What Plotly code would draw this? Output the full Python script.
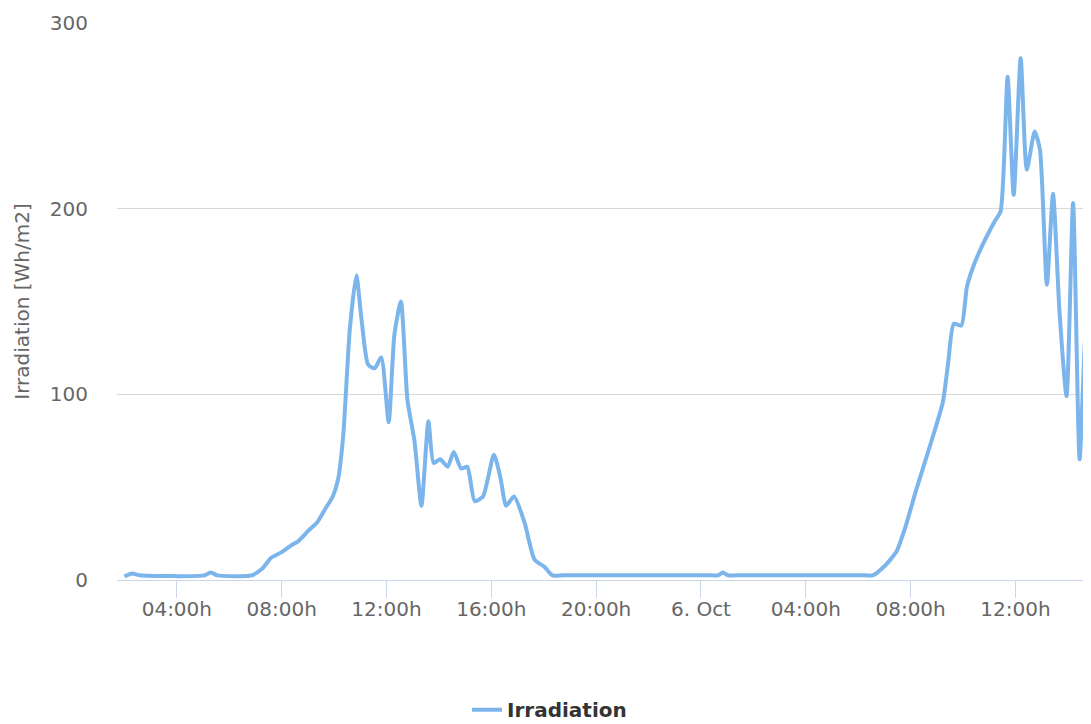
import plotly.graph_objects as go

# irradiation readings (Wh/m2), times
times = [
    "2020-10-05 02:00", "2020-10-05 02:18", "2020-10-05 02:36", "2020-10-05 05:03",
    "2020-10-05 05:18", "2020-10-05 05:33", "2020-10-05 06:51", "2020-10-05 07:15",
    "2020-10-05 07:36", "2020-10-05 08:00", "2020-10-05 08:24", "2020-10-05 08:36",
    "2020-10-05 09:03", "2020-10-05 09:21", "2020-10-05 09:39", "2020-10-05 09:57",
    "2020-10-05 10:09", "2020-10-05 10:21", "2020-10-05 10:36", "2020-10-05 10:51",
    "2020-10-05 11:03", "2020-10-05 11:18", "2020-10-05 11:33", "2020-10-05 11:48",
    "2020-10-05 12:05", "2020-10-05 12:18", "2020-10-05 12:33", "2020-10-05 12:48",
    "2020-10-05 13:04", "2020-10-05 13:20", "2020-10-05 13:36", "2020-10-05 13:48",
    "2020-10-05 14:03", "2020-10-05 14:20", "2020-10-05 14:34", "2020-10-05 14:51",
    "2020-10-05 15:05", "2020-10-05 15:22", "2020-10-05 15:41", "2020-10-05 16:06",
    "2020-10-05 16:21", "2020-10-05 16:34", "2020-10-05 16:52", "2020-10-05 17:16",
    "2020-10-05 17:39", "2020-10-05 18:02", "2020-10-05 18:20", "2020-10-05 18:45",
    "2020-10-05 21:00", "2020-10-05 23:00",
    "2020-10-06 00:25", "2020-10-06 00:39", "2020-10-06 00:50", "2020-10-06 01:02",
    "2020-10-06 01:20", "2020-10-06 03:00", "2020-10-06 05:00", "2020-10-06 06:15",
    "2020-10-06 06:33", "2020-10-06 07:00", "2020-10-06 07:28", "2020-10-06 07:47",
    "2020-10-06 08:13", "2020-10-06 08:44", "2020-10-06 09:14", "2020-10-06 09:26",
    "2020-10-06 09:39", "2020-10-06 09:56", "2020-10-06 10:09", "2020-10-06 10:27",
    "2020-10-06 10:50", "2020-10-06 11:12", "2020-10-06 11:26", "2020-10-06 11:42",
    "2020-10-06 11:56", "2020-10-06 12:12", "2020-10-06 12:26", "2020-10-06 12:44",
    "2020-10-06 12:56", "2020-10-06 13:12", "2020-10-06 13:26", "2020-10-06 13:41",
    "2020-10-06 13:57", "2020-10-06 14:12", "2020-10-06 14:27", "2020-10-06 14:42",
    "2020-10-06 14:57",
]
irradiation = [
    2, 3.5, 2.5, 2.5,
    4, 2.5, 2.5, 6,
    12, 15, 19, 20.5,
    27, 31, 38, 45,
    54, 78, 135, 164,
    140, 116, 114, 120,
    85, 132, 150, 97,
    75, 40, 85.5, 63,
    65, 61, 69, 60,
    61, 42.5, 45, 67.5,
    55, 40, 45, 31,
    11, 7, 2.5, 2.5,
    2.5, 2.5,
    2.5, 2.5, 4, 2.5,
    2.5, 2.5, 2.5, 2.5,
    2.5, 7.4, 15.5, 27.7,
    48.7, 72, 96, 117,
    138, 137, 158, 171,
    183, 193, 198.5, 271,
    207.5, 281, 221, 241.5,
    232, 159, 208, 144,
    99, 203, 65, 137,
    100,
]

tick_vals = ["2020-10-05 04:00", "2020-10-05 08:00", "2020-10-05 12:00", "2020-10-05 16:00",
             "2020-10-05 20:00", "2020-10-06 00:00", "2020-10-06 04:00", "2020-10-06 08:00",
             "2020-10-06 12:00"]
tick_text = ["04:00h", "08:00h", "12:00h", "16:00h", "20:00h", "6. Oct", "04:00h", "08:00h", "12:00h"]

x_range = ["2020-10-05 01:43", "2020-10-06 14:53"]

FONT = "DejaVu Sans"

fig = go.Figure()
fig.add_trace(go.Scatter(x=times, y=irradiation, mode="lines", name="Irradiation",
                         line=dict(color="#7cb5ec", width=4, shape="spline", smoothing=0.6),
                         showlegend=True))

# page body has an 8px margin, so the figure is sized to fit the window
fig.update_layout(
    width=1083, height=716,
    paper_bgcolor="white", plot_bgcolor="white",
    margin=dict(l=109, r=0, t=15, b=143.5, autoexpand=False),
    font=dict(family=FONT, size=20, color="#666666"),
    legend=dict(orientation="h", xref="container", yref="container", x=0.5, y=0.02,
                xanchor="center", yanchor="middle",
                font=dict(family=FONT, size=20, color="#333333", weight="bold")),
)
fig.update_xaxes(
    range=x_range, tickvals=tick_vals, ticktext=tick_text, automargin=False,
    showgrid=False, showline=True, linecolor="#ccd6eb", linewidth=1,
    ticks="outside", ticklen=17, tickcolor="#ccd6eb", tickwidth=1, ticklabelstandoff=-6,
    tickfont=dict(family=FONT, size=20, color="#666666"),
    zeroline=False,
)
fig.update_yaxes(
    range=[0, 300], tickvals=[0, 100, 200, 300], automargin=False,
    showgrid=True, gridcolor="#d8d8d8", gridwidth=1,
    zeroline=False, showline=False,
    ticks="outside", ticklen=24, tickcolor="rgba(0,0,0,0)",
    tickfont=dict(family=FONT, size=20, color="#666666"),
    title=dict(text="Irradiation [Wh/m2]", standoff=14,
               font=dict(family=FONT, size=20, color="#666666")),
)

fig.write_html("out.html")
